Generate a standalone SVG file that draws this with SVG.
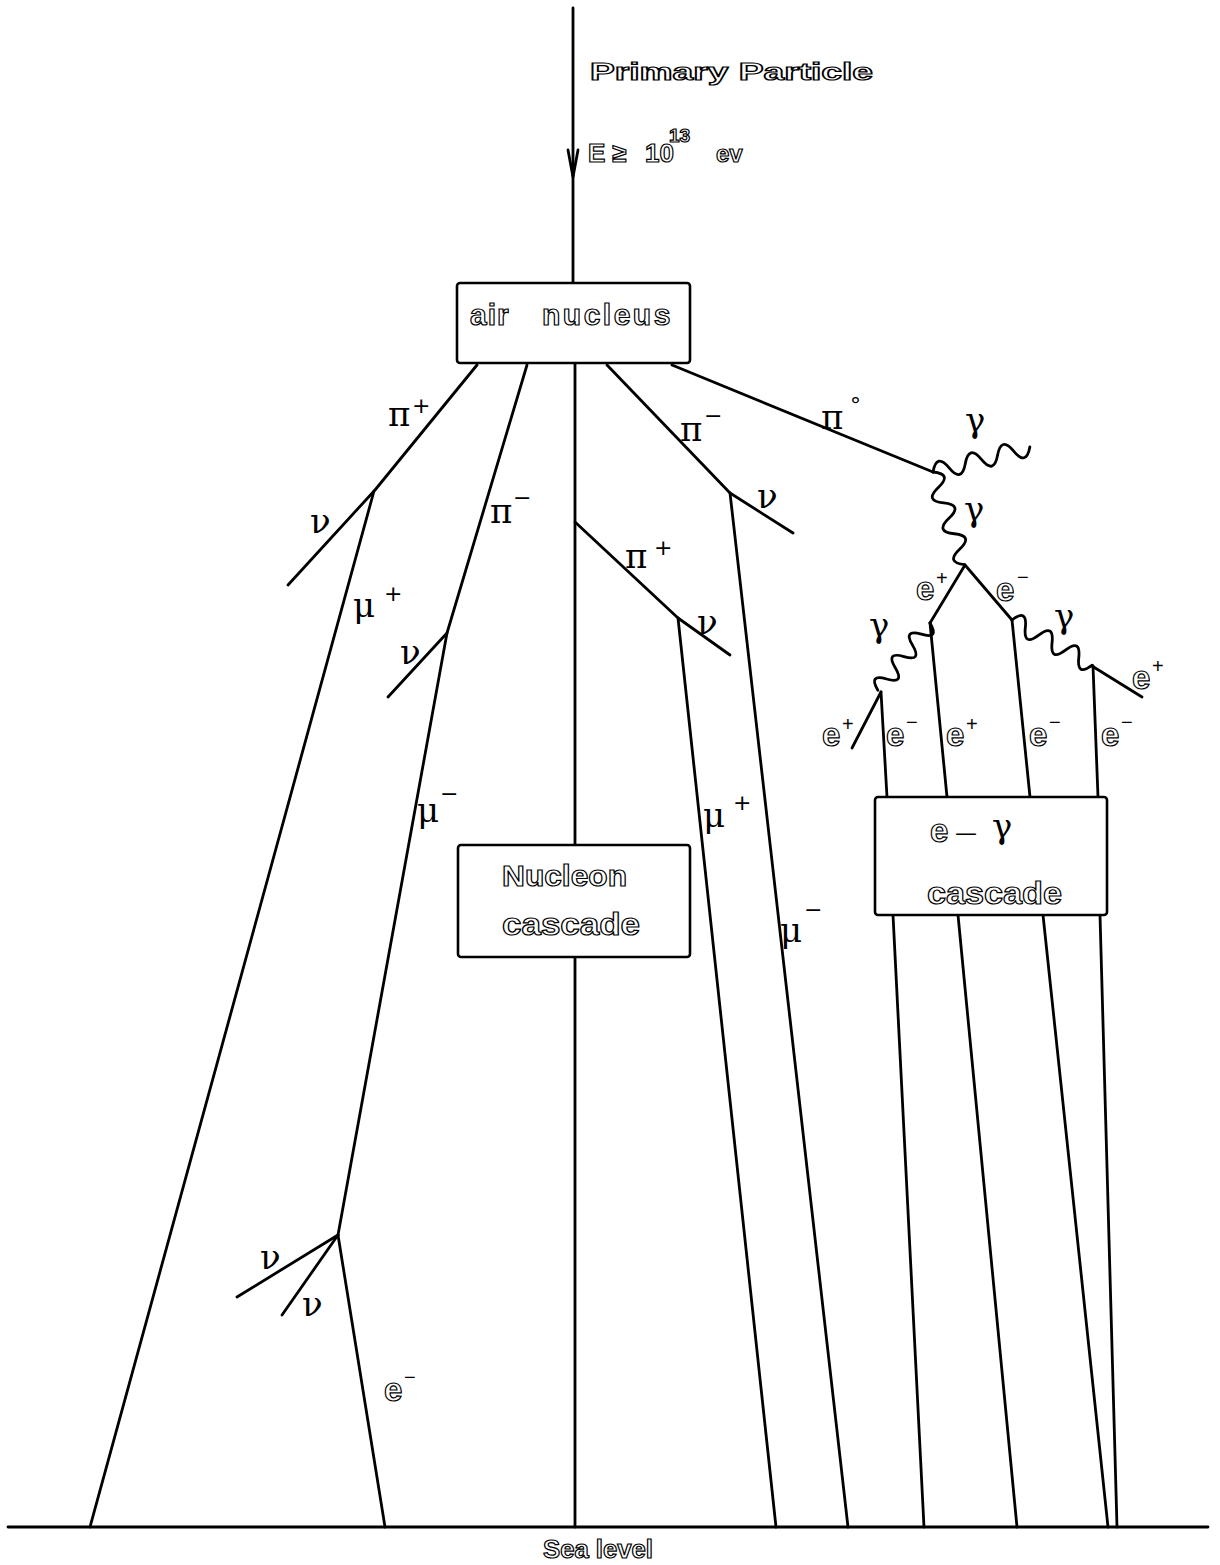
<svg xmlns="http://www.w3.org/2000/svg" width="1220" height="1565" viewBox="0 0 1220 1565">
<style>
.ln{fill:none;stroke:#000;stroke-width:2.8;stroke-linecap:round;stroke-linejoin:round}
.wv{fill:none;stroke:#000;stroke-width:2.8;stroke-linecap:round}
.box{fill:#fff;stroke:#000;stroke-width:2.6}
.st{font-family:"Liberation Sans",Arial,sans-serif;font-weight:bold;fill:#fff;stroke:#000;stroke-width:1.2}
.gk{font-family:"DejaVu Serif","Liberation Serif",serif;fill:#000;font-size:34px;font-weight:normal;stroke:none}
.sg{font-family:"DejaVu Sans","Liberation Sans",sans-serif;fill:#000;font-size:22px;stroke:none;font-weight:normal}
.el{font-family:"Liberation Sans",Arial,sans-serif;font-weight:bold;fill:#fff;stroke:#000;stroke-width:1.2;font-size:33px}
.sp{font-size:20px;fill:#000;stroke:none;font-weight:normal}
</style>
<rect width="1220" height="1565" fill="#fff"/>
<g id="connectors">
  <path class="ln" d="M573,8 V283"/>
  <path class="ln" d="M568,150 L573,177 L578,150" stroke-width="1.6"/>
  <path class="ln" d="M477,365 L375,490 L288,585"/>
  <path class="ln" d="M374,491 L90,1527"/>
  <path class="ln" d="M527,365 L447,633 L388,697"/>
  <path class="ln" d="M447,633 L338,1235"/>
  <path class="ln" d="M338,1235 L237,1297"/>
  <path class="ln" d="M338,1235 L282,1315"/>
  <path class="ln" d="M338,1235 L385,1527"/>
  <path class="ln" d="M575,364 V1527"/>
  <path class="ln" d="M575,522 L678,618 L730,655"/>
  <path class="ln" d="M678,618 L776,1527"/>
  <path class="ln" d="M607,365 L730,493 L793,533"/>
  <path class="ln" d="M730,493 L848,1527"/>
  <path class="ln" d="M672,365 L933,472"/>
  <g transform="translate(933,472) rotate(-14.5)"><path class="wv" d="M0,0 q8.33,-18 16.67,0 t16.67,0 t16.67,0 t16.67,0 t16.67,0 t16.67,0"/></g>
  <g transform="translate(933,472) rotate(71)"><path class="wv" d="M0,0 q8.17,-18 16.33,0 t16.33,0 t16.33,0 t16.33,0 t16.33,0 t16.33,0"/></g>
  <path class="ln" d="M930,623 L965,565 L1012,620"/>
  <g transform="translate(930,623) rotate(127.8)"><path class="wv" d="M0,0 q7.08,-18 14.17,0 t14.17,0 t14.17,0 t14.17,0 t14.17,0 t14.17,0"/></g>
  <g transform="translate(1012,620) rotate(29.4)"><path class="wv" d="M0,0 q7.67,-18 15.33,0 t15.33,0 t15.33,0 t15.33,0 t15.33,0 t15.33,0"/></g>
  <path class="ln" d="M930,623 L947,797"/>
  <path class="ln" d="M881,692 L852,748"/>
  <path class="ln" d="M881,692 L887,797"/>
  <path class="ln" d="M1012,620 L1030,797"/>
  <path class="ln" d="M1092,666 L1142,697"/>
  <path class="ln" d="M1093,666 L1098,797"/>
  <path class="ln" d="M893,915 L924,1527"/>
  <path class="ln" d="M958,915 L1017,1527"/>
  <path class="ln" d="M1043,915 L1108,1527"/>
  <path class="ln" d="M1100,915 L1117,1527"/>
  <path class="ln" d="M8,1527 H1208"/>
</g>
<g id="primary">
  <text class="st" x="590" y="80" font-size="23" textLength="283" lengthAdjust="spacingAndGlyphs">Primary Particle</text>
  <text class="st" x="588" y="162" font-size="26">E<tspan x="612">≥</tspan><tspan x="645">10</tspan><tspan x="669" y="142" font-size="19">13</tspan><tspan x="716" y="162" font-size="24">ev</tspan></text>
</g>
<g id="air-nucleus">
  <rect class="box" x="457" y="283" width="233" height="80" rx="3"/>
  <text class="st" x="470" y="325" font-size="30" letter-spacing="1">air<tspan x="542" letter-spacing="2.5">nucleus</tspan></text>
</g>
<g id="nucleon-cascade">
  <rect class="box" x="458" y="845" width="232" height="112" rx="3"/>
  <text class="st" x="502" y="886" font-size="30" textLength="125" lengthAdjust="spacingAndGlyphs">Nucleon</text>
  <text class="st" x="502" y="935" font-size="31" textLength="138" lengthAdjust="spacingAndGlyphs">cascade</text>
</g>
<g id="e-gamma-cascade">
  <rect class="box" x="875" y="797" width="232" height="118" rx="3"/>
  <text class="st" x="930" y="842" font-size="33">e<tspan class="sg" x="955" y="840" font-size="26">—</tspan><tspan class="gk" x="992" y="838" font-size="34">γ</tspan></text>
  <text class="st" x="927" y="904" font-size="32" textLength="135" lengthAdjust="spacingAndGlyphs">cascade</text>
</g>
<g id="labels">
  <text class="gk" x="388" y="426">π<tspan class="sg" x="412" y="413">+</tspan></text>
  <text class="gk" x="310" y="533">ν</text>
  <text class="gk" x="353" y="617">μ<tspan class="sg" x="384" y="601">+</tspan></text>
  <text class="gk" x="490" y="523">π<tspan class="sg" x="513" y="505">−</tspan></text>
  <text class="gk" x="400" y="664">ν</text>
  <text class="gk" x="417" y="822">μ<tspan class="sg" x="440" y="801">−</tspan></text>
  <text class="gk" x="625" y="568">π<tspan class="sg" x="654" y="555">+</tspan></text>
  <text class="gk" x="697" y="634">ν</text>
  <text class="gk" x="680" y="441">π<tspan class="sg" x="704" y="423">−</tspan></text>
  <text class="gk" x="757" y="508">ν</text>
  <text class="gk" x="821" y="429">π<tspan class="sg" x="850" y="413" font-size="16">°</tspan></text>
  <text class="gk" x="703" y="827">μ<tspan class="sg" x="733" y="810">+</tspan></text>
  <text class="gk" x="780" y="942">μ<tspan class="sg" x="804" y="917">−</tspan></text>
  <text class="gk" x="965" y="432">γ</text>
  <text class="gk" x="964" y="521">γ</text>
  <text class="gk" x="869" y="637">γ</text>
  <text class="gk" x="1054" y="628">γ</text>
  <text class="gk" x="260" y="1269">ν</text>
  <text class="gk" x="302" y="1316">ν</text>
  <text class="el" x="916" y="600">e<tspan class="sp" x="936" y="585">+</tspan></text>
  <text class="el" x="996" y="601">e<tspan class="sp" x="1017" y="584">−</tspan></text>
  <text class="el" x="822" y="746">e<tspan class="sp" x="842" y="731">+</tspan></text>
  <text class="el" x="886" y="746">e<tspan class="sp" x="906" y="729">−</tspan></text>
  <text class="el" x="946" y="746">e<tspan class="sp" x="966" y="731">+</tspan></text>
  <text class="el" x="1029" y="746">e<tspan class="sp" x="1049" y="729">−</tspan></text>
  <text class="el" x="1101" y="746">e<tspan class="sp" x="1121" y="729">−</tspan></text>
  <text class="el" x="1132" y="689">e<tspan class="sp" x="1152" y="673">+</tspan></text>
  <text class="el" x="384" y="1401">e<tspan class="sp" x="404" y="1384">−</tspan></text>
</g>
<g id="sea-level">
  <text class="st" x="543" y="1558" font-size="25" textLength="110" lengthAdjust="spacingAndGlyphs">Sea level</text>
</g>
</svg>
